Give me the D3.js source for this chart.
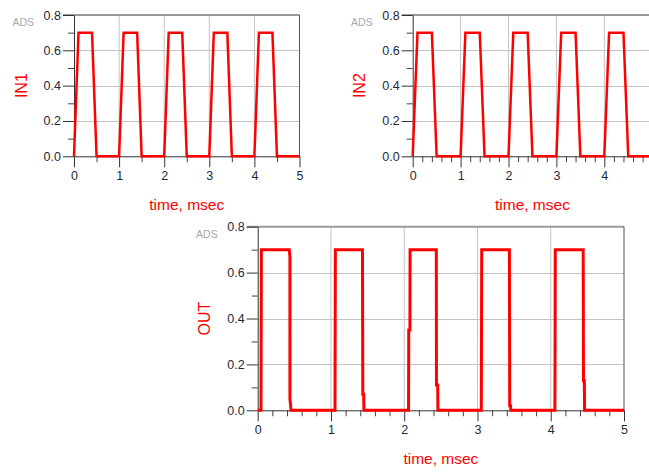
<!DOCTYPE html>
<html><head><meta charset="utf-8">
<script src="https://cdn.jsdelivr.net/npm/d3@7"></script>
<style>body{margin:0;background:#fff}svg{display:block}</style>
</head><body><svg id="c" width="649" height="475"></svg>
<script>
// ---- data ----
const timeIN1 = [0,0.1,0.4,0.5, 1.0,1.1,1.4,1.5, 2.0,2.1,2.4,2.5, 3.0,3.1,3.4,3.5, 4.0,4.1,4.4,4.5, 5.0];
const valIN1  = [0,0.7,0.7,0,   0,0.7,0.7,0,     0,0.7,0.7,0,     0,0.7,0.7,0,     0,0.7,0.7,0,     0];
const timeIN2 = [0,0.1,0.4,0.5, 1.0,1.1,1.4,1.5, 2.0,2.1,2.4,2.5, 3.0,3.1,3.4,3.5, 4.0,4.1,4.4,4.5, 5.0];
const valIN2  = [0,0.7,0.7,0,   0,0.7,0.7,0,     0,0.7,0.7,0,     0,0.7,0.7,0,     0,0.7,0.7,0,     0];
const timeOUT = [0,0.045,0.05,0.43,0.44,0.44,0.455,
                 1.055,1.06,1.43,1.435,1.447,1.45,
                 2.059,2.062,2.078,2.08,2.438,2.44,2.457,2.46,
                 3.052,3.058,3.436,3.44,3.452,3.455,
                 4.057,4.062,4.443,4.447,4.458,4.462,
                 5.0];
const valOUT  = [0,0,0.7,0.7,0.67,0.05,0,
                 0,0.7,0.7,0.07,0.07,0,
                 0,0.35,0.35,0.7,0.7,0.11,0.11,0,
                 0,0.7,0.7,0.02,0.02,0,
                 0,0.7,0.7,0.13,0.13,0,
                 0];
const xTicks = [0,1,2,3,4,5];
const yTicks = [0,0.2,0.4,0.6,0.8];
const yMinor = [0.1,0.3,0.5,0.7];
const xLabel = "time, msec";

const svg = d3.select("#c");
const FONT = "Arial, 'Liberation Sans', sans-serif";

function panel(o){
  const x = d3.scaleLinear().domain([0,5]).range([o.x0,o.x1]);
  const y = d3.scaleLinear().domain([0,0.8]).range([o.y0,o.y1]);
  const g = svg.append("g");
  // grid
  g.selectAll(".vg").data([1,2,3,4]).join("line")
    .attr("x1",d=>x(d)).attr("x2",d=>x(d)).attr("y1",y(0)).attr("y2",y(0.8))
    .attr("stroke","#c4c4c4").attr("stroke-width",1);
  g.selectAll(".hg").data([0.2,0.4,0.6]).join("line")
    .attr("x1",x(0)).attr("x2",x(5)).attr("y1",d=>Math.round(y(d))+0.5).attr("y2",d=>Math.round(y(d))+0.5)
    .attr("stroke","#c4c4c4").attr("stroke-width",1);
  // top border
  g.append("line").attr("x1",x(0)-11).attr("x2",x(5)).attr("y1",y(0.8)).attr("y2",y(0.8))
    .attr("stroke","#9a9a9a").attr("stroke-width",2);
  // right border
  g.append("line").attr("x1",x(5)).attr("x2",x(5)).attr("y1",y(0.8)).attr("y2",y(0))
    .attr("stroke","#555").attr("stroke-width",1);
  // minor ticks
  const yAxisMinor = d3.axisLeft(y).tickValues(yMinor).tickSize(6).tickFormat("");
  g.append("g").attr("transform",`translate(${x(0)},0)`).call(yAxisMinor)
    .call(a=>a.select(".domain").remove()).selectAll("line").attr("stroke","#444");
  const xm = d3.range(0,5.001,o.xminor).filter(v=>Math.abs(v-Math.round(v))>1e-6);
  const xAxisMinor = d3.axisBottom(x).tickValues(xm).tickSize(6).tickFormat("");
  g.append("g").attr("transform",`translate(0,${y(0)})`).call(xAxisMinor)
    .call(a=>a.select(".domain").remove()).selectAll("line").attr("stroke","#444");
  // major axes
  const yAxis = d3.axisLeft(y).tickValues(yTicks).tickSize(11).tickSizeOuter(0).tickPadding(2).tickFormat(d3.format(".1f"));
  const ya = g.append("g").attr("transform",`translate(${x(0)},0)`).call(yAxis);
  const xAxis = d3.axisBottom(x).tickValues(xTicks).tickSize(11).tickSizeOuter(0).tickPadding(4)
    .tickFormat(d => (x(d) > 640 ? "" : d3.format("d")(d)));
  const xa = g.append("g").attr("transform",`translate(0,${y(0)})`).call(xAxis);
  [ya,xa].forEach(a=>{
    a.select(".domain").attr("stroke","#333");
    a.selectAll("line").attr("stroke","#333");
    a.selectAll("text").attr("fill","#1e2a38").style("font-family",FONT).style("font-size","12.5px");
  });
  // line
  const data = o.t.map((t,i)=>[t,o.v[i]]);
  g.append("path").datum(data)
    .attr("d", d3.line().x(d=>x(d[0])).y(d=>y(d[1])))
    .attr("fill","none").attr("stroke","#ff0000").attr("stroke-width",o.lw)
    .attr("stroke-linejoin","miter");
  // labels
  g.append("text").text("ADS").attr("x",x(0)-40).attr("y",y(0.8)+11)
    .attr("text-anchor","end").attr("fill","#a8a8a8")
    .style("font-family",FONT).style("font-size","10.5px");
  g.append("text").text(o.name)
    .attr("transform",`translate(${x(0)-53},${(y(0)+y(0.8))/2}) rotate(-90)`)
    .attr("text-anchor","middle").attr("dy","0.36em").attr("fill","#ff0000")
    .style("font-family",FONT).style("font-size","16px");
  g.append("text").text(xLabel).attr("x",(x(0)+x(5))/2).attr("y",y(0)+54)
    .attr("text-anchor","middle").attr("fill","#ff0000")
    .style("font-family",FONT).style("font-size","15.5px");
}

panel({x0:74,x1:299.5,y0:156.3,y1:15,t:timeIN1,v:valIN1,name:"IN1",xminor:0.5,lw:2.5});
panel({x0:412.7,x1:652.2,y0:156.3,y1:15,t:timeIN2,v:valIN2,name:"IN2",xminor:0.2,lw:2.5});
panel({x0:257.7,x1:624,y0:410.3,y1:226.7,t:timeOUT,v:valOUT,name:"OUT",xminor:0.2,lw:3});
</script>
</body></html>
